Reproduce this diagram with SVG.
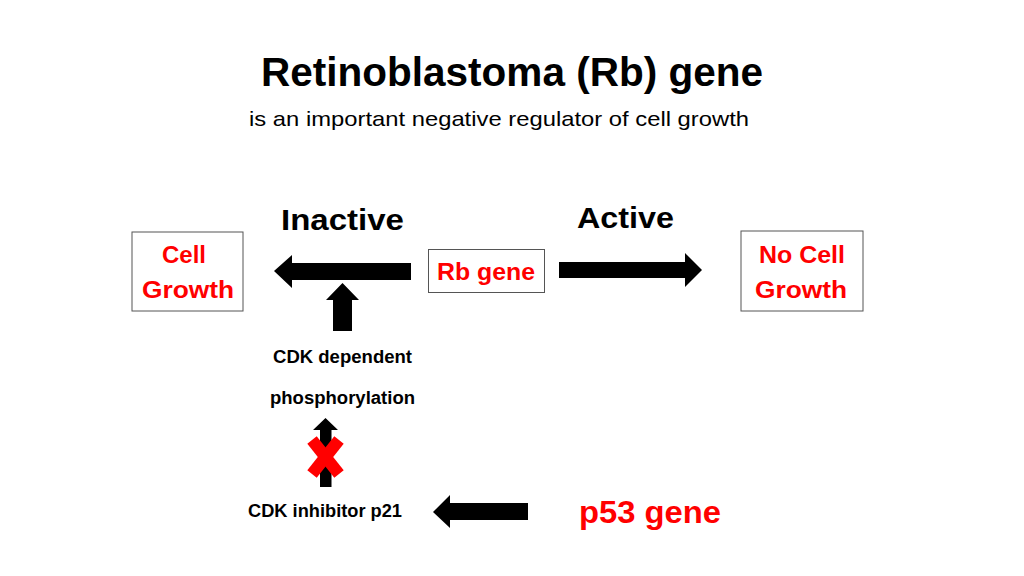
<svg xmlns="http://www.w3.org/2000/svg" width="1024" height="576" viewBox="0 0 1024 576">
  <style>
    text { font-family: "Liberation Sans", Arial, sans-serif; font-weight: bold; }
    .blk { fill: #000; }
    .red { fill: #FF0000; }
    .box { fill: #fff; stroke: #555; stroke-width: 1; }
    .arrow { fill: #000; }
  </style>
  <rect width="1024" height="576" fill="#fff"/>

  <g id="title">
    <text x="261" y="86" font-size="40" textLength="502" lengthAdjust="spacingAndGlyphs" class="blk">Retinoblastoma (Rb) gene</text>
    <text x="249" y="126" font-size="21" style="font-weight:normal" textLength="500" lengthAdjust="spacingAndGlyphs" class="blk">is an important negative regulator of cell growth</text>
  </g>

  <g id="label-inactive">
    <text x="281" y="230" font-size="30" textLength="123" lengthAdjust="spacingAndGlyphs" class="blk">Inactive</text>
  </g>
  <g id="label-active">
    <text x="577" y="228" font-size="30" textLength="97" lengthAdjust="spacingAndGlyphs" class="blk">Active</text>
  </g>

  <g id="node-cell-growth">
    <rect x="132" y="232" width="111" height="79" class="box"/>
    <text x="162" y="263" font-size="24" textLength="44" lengthAdjust="spacingAndGlyphs" class="red">Cell</text>
    <text x="142" y="298" font-size="24" textLength="92" lengthAdjust="spacingAndGlyphs" class="red">Growth</text>
  </g>

  <g id="node-rb-gene">
    <rect x="428.5" y="249.5" width="116" height="43" class="box"/>
    <text x="437" y="280" font-size="24" textLength="98" lengthAdjust="spacingAndGlyphs" class="red">Rb gene</text>
  </g>

  <g id="node-no-cell-growth">
    <rect x="741" y="231" width="122" height="80" class="box"/>
    <text x="759" y="263" font-size="24" textLength="86" lengthAdjust="spacingAndGlyphs" class="red">No Cell</text>
    <text x="755" y="298" font-size="24" textLength="92" lengthAdjust="spacingAndGlyphs" class="red">Growth</text>
  </g>

  <g id="node-cdk-phos">
    <text x="273" y="363" font-size="18" textLength="139" lengthAdjust="spacingAndGlyphs" class="blk">CDK dependent</text>
    <text x="270" y="404" font-size="18" textLength="145" lengthAdjust="spacingAndGlyphs" class="blk">phosphorylation</text>
  </g>

  <g id="node-p21">
    <text x="248" y="517" font-size="18" textLength="154" lengthAdjust="spacingAndGlyphs" class="blk">CDK inhibitor p21</text>
  </g>

  <g id="node-p53">
    <text x="579" y="523" font-size="31" textLength="142" lengthAdjust="spacingAndGlyphs" class="red">p53 gene</text>
  </g>

  <g id="connectors">
    <polygon class="arrow" points="411,263 292,263 292,255 274,271 292,288 292,280 411,280"/>
    <polygon class="arrow" points="333,331 333,300 326,300 342.5,283 359,300 352,300 352,331"/>
    <polygon class="arrow" points="559,262 685,262 685,253 702,270 685,287 685,278 559,278"/>
    <polygon class="arrow" points="320,487 320,430 313,430 325.5,418 338,430 331.5,430 331.5,487"/>
    <polygon class="arrow" points="528,503 450,503 450,495 433,512 450,528 450,520 528,520"/>
    <g stroke="#FF0000" stroke-width="12" stroke-linecap="butt">
      <line x1="312" y1="440" x2="339" y2="474"/>
      <line x1="339" y1="440" x2="312" y2="474"/>
    </g>
  </g>
</svg>
